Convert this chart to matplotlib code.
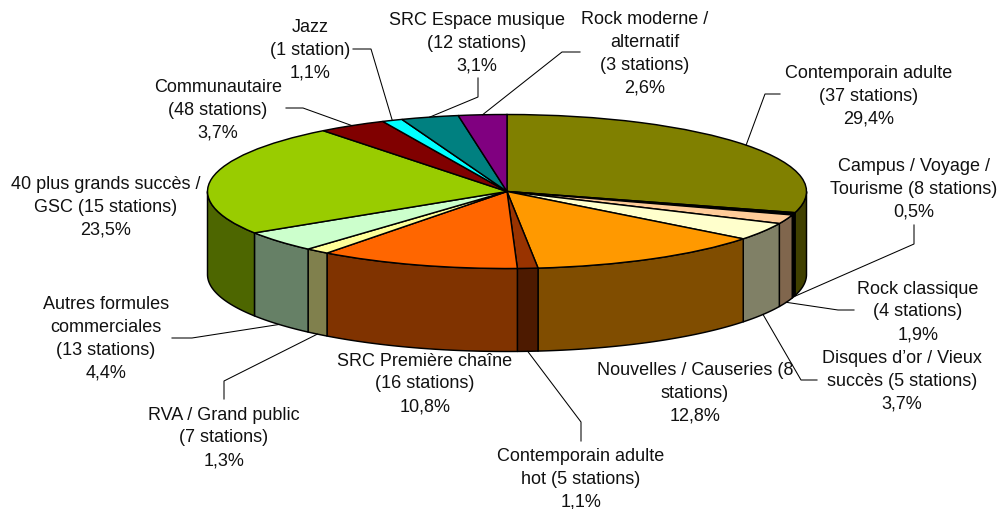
import numpy as np
import matplotlib
matplotlib.use("Agg")
import matplotlib.pyplot as plt
from matplotlib.colors import to_rgb

# ---- data ----
names = [
    "Contemporain adulte\n(37 stations)",
    "Campus / Voyage /\nTourisme (8 stations)",
    "Rock classique\n(4 stations)",
    "Disques d\u2019or / Vieux\nsuccès (5 stations)",
    "Nouvelles / Causeries (8\nstations)",
    "Contemporain adulte\nhot (5 stations)",
    "SRC Première chaîne\n(16 stations)",
    "RVA / Grand public\n(7 stations)",
    "Autres formules\ncommerciales\n(13 stations)",
    "40 plus grands succès /\nGSC (15 stations)",
    "Communautaire\n(48 stations)",
    "Jazz\n(1 station)",
    "SRC Espace musique\n(12 stations)",
    "Rock moderne /\nalternatif\n(3 stations)",
]
shares = [29.4, 0.5, 1.9, 3.7, 12.8, 1.1, 10.8, 1.3, 4.4, 23.5, 3.7, 1.1, 3.1, 2.6]
colors = ["#808000", "#000000", "#FFCC99", "#FFFFCC", "#FF9900", "#993300", "#FF6600",
          "#FFFF99", "#CCFFCC", "#99CC00", "#800000", "#00FFFF", "#008080", "#800080"]

# ---- layout (pixels) ----
W, H = 1000, 509
CX, CY, RX, RY, DEPTH = 507.0, 191.5, 299.5, 77.0, 83.0
label_pos = [(869, 96), (914, 189), (918, 312), (902, 381), (695, 393), (581, 479), (425, 384),
             (224, 438), (106, 339), (106, 207), (218, 110), (310, 50), (477, 43), (645, 54)]
# bend and end of each leader, None when the label has no leader
leader_path = [[(765, 94), (780, 94)], [(914, 244), (914, 225)], [(838, 310), (854, 310)],
               [(801, 380), (817, 380)], None, [(581, 422), (581, 441)], None,
               [(224, 381), (224, 399)], [(192, 338), (172, 338)], None,
               [(303, 108), (286, 108)], [(371, 49), (353, 49)], [(478, 97), (478, 78)],
               [(562, 52), (580, 52)]]

plt.rcParams["font.family"] = ["Liberation Sans", "DejaVu Sans"]
fig = plt.figure(figsize=(W / 100, H / 100), dpi=100, facecolor="white")
ax = fig.add_axes([0, 0, 1, 1])
ax.pie(shares, colors=colors, startangle=90, counterclock=False, radius=1,
       wedgeprops=dict(edgecolor="black", linewidth=1.05, zorder=3))
ax.set_aspect("auto")
ax.set_xlim(-CX / RX, (W - CX) / RX)
ax.set_ylim(-(H - CY) / RY, CY / RY)
ax.axis("off")

# side wall: visible for clockwise angles between 90 and 270 degrees
frac = np.array(shares) / np.sum(shares)
edges = np.concatenate([[0], np.cumsum(frac)]) * 360
d = DEPTH / RY
for a0, a1, c in zip(edges[:-1], edges[1:], colors):
    lo, hi = max(a0, 90), min(a1, 270)
    if hi <= lo:
        continue
    t = np.radians(np.linspace(lo, hi, 60))
    xs = np.concatenate([np.sin(t), np.sin(t[::-1])])
    ys = np.concatenate([np.cos(t), np.cos(t[::-1]) - d])
    side = tuple(v * 0.5 for v in to_rgb(c))
    ax.fill(xs, ys, facecolor=side, edgecolor="black", linewidth=1.05, zorder=1, joinstyle="round")

# labels and leaders in pixel coordinates
ov = fig.add_axes([0, 0, 1, 1], facecolor="none")
ov.set_xlim(0, W)
ov.set_ylim(H, 0)
ov.axis("off")
mids = (edges[:-1] + edges[1:]) / 2
for name, share, pos, path, m in zip(names, shares, label_pos, leader_path, mids):
    txt = name + "\n" + f"{share:.1f}".replace(".", ",") + "%"
    ov.text(pos[0], pos[1], txt, ha="center", va="center", fontsize=13.0,
            linespacing=1.45, color="#111111")
    if path is None:
        continue
    th = np.radians(m)
    x0 = CX + RX * np.sin(th)
    y0 = CY - RY * np.cos(th)
    if 90 < m < 270:
        y0 += DEPTH
    pts = [(x0, y0)] + path
    ov.plot([p[0] for p in pts], [p[1] for p in pts], color="black", lw=0.75, zorder=0.5,
            solid_joinstyle="miter")

fig.savefig("out.png", dpi=100, facecolor="white")
